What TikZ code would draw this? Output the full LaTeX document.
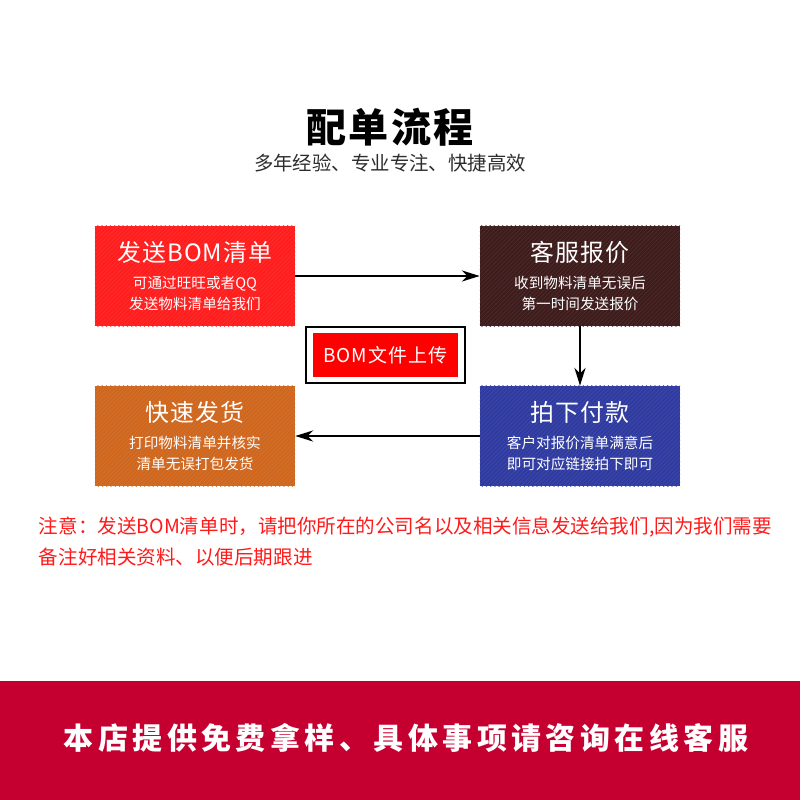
\documentclass[tikz,border=0pt]{standalone}
\usepackage{fontspec}
\setmainfont{Noto Sans CJK SC}
\usetikzlibrary{arrows.meta,patterns,fit,positioning}
\definecolor{sendred}{RGB}{255,30,30}
\definecolor{quotebrown}{RGB}{62,28,28}
\definecolor{shiporange}{RGB}{207,103,30}
\definecolor{payblue}{RGB}{47,59,160}
\definecolor{uploadred}{RGB}{255,0,0}
\definecolor{notered}{RGB}{255,26,26}
\definecolor{bandred}{RGB}{197,0,48}
\definecolor{subgray}{RGB}{45,45,45}
\newcommand\boxtitle[1]{{\fontsize{17}{22}\selectfont\addfontfeature{LetterSpace=4}#1}}

\begin{document}
\begin{tikzpicture}[x=0.025cm, y=-0.025cm, >={Stealth[length=0.45cm,width=0.28cm]},
		flowbox/.style={minimum width=5cm, minimum height=2.5cm, inner sep=0pt, text=white, align=center,
			font=\fontsize{10.4}{15}\selectfont, fill=#1,
			postaction={pattern=north east lines, pattern color=#1!92!white}},
		link/.style={->, line width=1.2pt}]
		\useasboundingbox (0,0) rectangle (800,800);
		% ---- heading ----
		\node (title) at (390,127) {\fontsize{28.5}{30}\selectfont\bfseries\addfontfeature{LetterSpace=6}配单流程};
		\node[text=subgray, font=\fontsize{13.8}{15}\selectfont] (subtitle) at (390,163) {多年经验、专业专注、快捷高效};
		% ---- the four steps ----
		\node[flowbox=sendred] (send) at (195,276) {\boxtitle{发送BOM清单}\\[4pt]可通过旺旺或者QQ\\发送物料清单给我们};
		\node[flowbox=quotebrown] (quote) at (580,276) {\boxtitle{客服报价}\\[4pt]收到物料清单无误后\\第一时间发送报价};
		\node[flowbox=payblue] (pay) at (580,436) {\boxtitle{拍下付款}\\[4pt]客户对报价清单满意后\\即可对应链接拍下即可};
		\node[flowbox=shiporange] (ship) at (195,436) {\boxtitle{快速发货}\\[4pt]打印物料清单并核实\\清单无误打包发货};
		% ---- upload button ----
		\node[fill=uploadred, text=white, minimum width=3.63cm, minimum height=1.1cm, inner sep=0pt,
			font=\fontsize{13.5}{15}\selectfont\addfontfeature{LetterSpace=6}] (upload) at (385.5,355) {BOM文件上传};
		\node[draw, line width=1.5pt, inner xsep=5pt, inner ysep=4pt, fit=(upload)] (uploadframe) {};
		% ---- arrows ----
		\draw[link] (send) -- (quote);
		\draw[link] (quote) -- (pay);
		\draw[link] (pay) -- (ship);
		% ---- note ----
		\node[anchor=west, text=notered, font=\fontsize{13.9}{15}\selectfont] (note1) at (34,527) {注意：发送BOM清单时，请把你所在的公司名以及相关信息发送给我们,因为我们需要};
		\node[anchor=west, text=notered, font=\fontsize{13.9}{15}\selectfont] (note2) at (34,557) {备注好相关资料、以便后期跟进};
		% ---- bottom band ----
		\fill[bandred] (0,681) rectangle (800,800);
		\node[text=white, font=\fontsize{21.3}{24}\selectfont\bfseries\addfontfeature{LetterSpace=15}] (slogan) at (406,738) {本店提供免费拿样、具体事项请咨询在线客服};
	\end{tikzpicture}
\end{document}
